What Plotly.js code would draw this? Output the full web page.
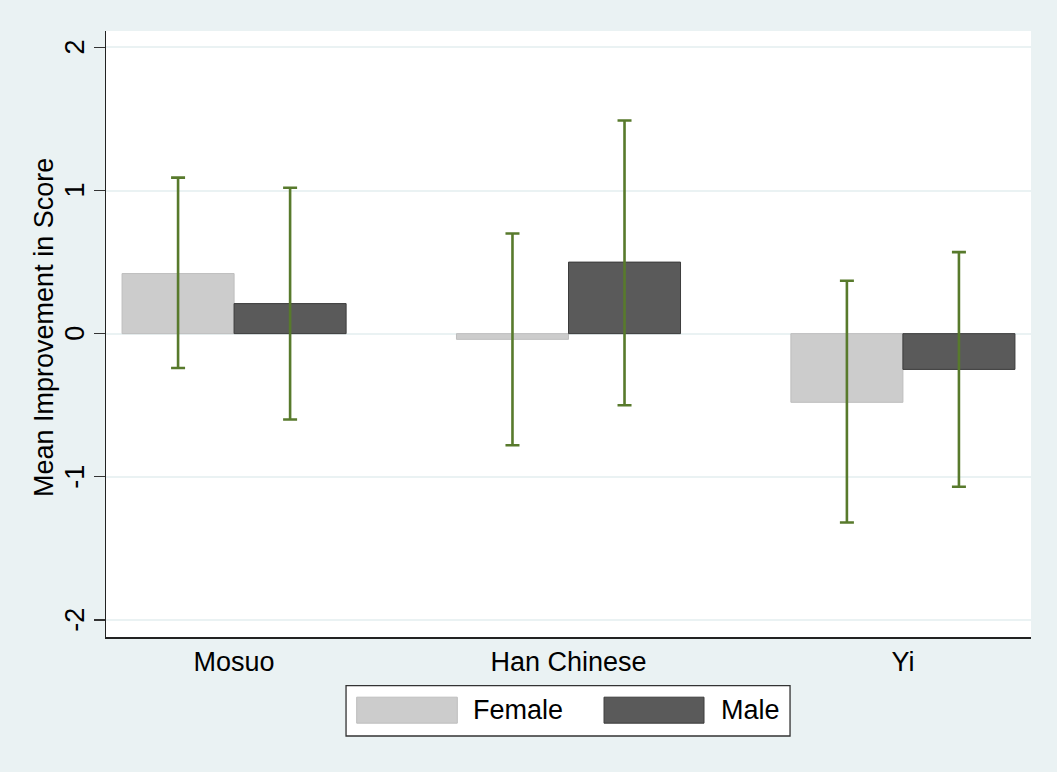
<!DOCTYPE html>
<html>
<head>
<meta charset="utf-8">
<script src="https://cdn.plot.ly/plotly-3.0.1.min.js"></script>
<style>
  html, body { margin: 0; padding: 0; background: #EAF2F3; }
  #chart { width: 1057px; height: 772px; }
</style>
</head>
<body>
<div id="chart"></div>
<script>
// ---- data ----
const categories = ["Mosuo", "Han Chinese", "Yi"];
const seriesNames = ["Female", "Male"];
const femaleMean = [0.42, -0.04, -0.48];
const maleMean = [0.21, 0.50, -0.25];
const femaleHigh = [1.09, 0.70, 0.37];
const femaleLow = [-0.24, -0.78, -1.32];
const maleHigh = [1.02, 1.49, 0.57];
const maleLow = [-0.60, -0.50, -1.07];
const yTicks = [-2, -1, 0, 1, 2];
const yTitle = "Mean Improvement in Score";

// ---- styles ----
const bg = "#EAF2F3";
const femaleFill = "#CCCCCC", femaleLine = "#BEBEBE";
const maleFill = "#5A5A5A", maleLine = "#3C3C3C";
const errColor = "#587A2C";
const fontFam = "Liberation Sans, Arial, Helvetica, sans-serif";
const fs = 27;
const txtFont = { family: fontFam, size: fs, color: "#000" };

function errObj(mean, high, low) {
  return {
    type: "data", symmetric: false,
    array: mean.map((m, i) => high[i] - m),
    arrayminus: mean.map((m, i) => m - low[i]),
    color: errColor, thickness: 2.6, width: 7, visible: true
  };
}

const traces = [
  { type: "bar", name: seriesNames[0], x: categories, y: femaleMean,
    marker: { color: femaleFill, line: { color: femaleLine, width: 1 } },
    error_y: errObj(femaleMean, femaleHigh, femaleLow), showlegend: false, hoverinfo: "skip" },
  { type: "bar", name: seriesNames[1], x: categories, y: maleMean,
    marker: { color: maleFill, line: { color: maleLine, width: 1 } },
    error_y: errObj(maleMean, maleHigh, maleLow), showlegend: false, hoverinfo: "skip" }
];

// custom legend (Stata style wide swatches)
const lgY0 = -0.1634, lgY1 = -0.0804;
const swY0 = -0.1422, swY1 = -0.0993;
const shapes = [
  { type: "rect", xref: "paper", yref: "paper", x0: 0.2595, x1: 0.7395, y0: lgY0, y1: lgY1,
    fillcolor: "#FFFFFF", line: { color: "#333333", width: 1.3 } },
  { type: "rect", xref: "paper", yref: "paper", x0: 0.2710, x1: 0.3798, y0: swY0, y1: swY1,
    fillcolor: femaleFill, line: { color: femaleLine, width: 1 } },
  { type: "rect", xref: "paper", yref: "paper", x0: 0.5384, x1: 0.6465, y0: swY0, y1: swY1,
    fillcolor: maleFill, line: { color: maleLine, width: 1 } }
];
const annotations = [
  { xref: "paper", yref: "paper", x: 0.3950, y: (swY0 + swY1) / 2, xanchor: "left", yanchor: "middle",
    text: seriesNames[0], showarrow: false, font: txtFont },
  { xref: "paper", yref: "paper", x: 0.6630, y: (swY0 + swY1) / 2, xanchor: "left", yanchor: "middle",
    text: seriesNames[1], showarrow: false, font: txtFont },
  // rotated y title
  { xref: "paper", yref: "paper", x: -0.067, y: 0.51, xanchor: "center", yanchor: "middle",
    text: yTitle, textangle: -90, showarrow: false, font: txtFont }
];
// rotated y tick labels (Stata style)
yTicks.forEach(v => annotations.push({
  xref: "paper", yref: "y", x: -0.0335, y: v, xanchor: "center", yanchor: "middle",
  text: String(v), textangle: -90, showarrow: false, font: txtFont
}));

const layout = {
  width: 1057, height: 772,
  paper_bgcolor: bg, plot_bgcolor: "#FFFFFF",
  margin: { l: 106, r: 26, t: 31, b: 135 },
  font: txtFont,
  barmode: "group", bargap: 0.33, bargroupgap: 0,
  showlegend: false,
  xaxis: {
    type: "category", range: [-0.383, 2.383],
    showline: true, linecolor: "#222", linewidth: 1.5,
    ticks: "", showgrid: false, zeroline: false,
    tickfont: txtFont
  },
  yaxis: {
    range: [-2.12, 2.115], tickvals: yTicks,
    showticklabels: false,
    showline: true, linecolor: "#222", linewidth: 1.5,
    ticks: "outside", ticklen: 11, tickwidth: 1.5, tickcolor: "#333",
    showgrid: true, gridcolor: bg, gridwidth: 2,
    zeroline: true, zerolinecolor: bg, zerolinewidth: 2
  },
  shapes: shapes,
  annotations: annotations
};

Plotly.newPlot("chart", traces, layout, { displayModeBar: false, staticPlot: true });
</script>
</body>
</html>
